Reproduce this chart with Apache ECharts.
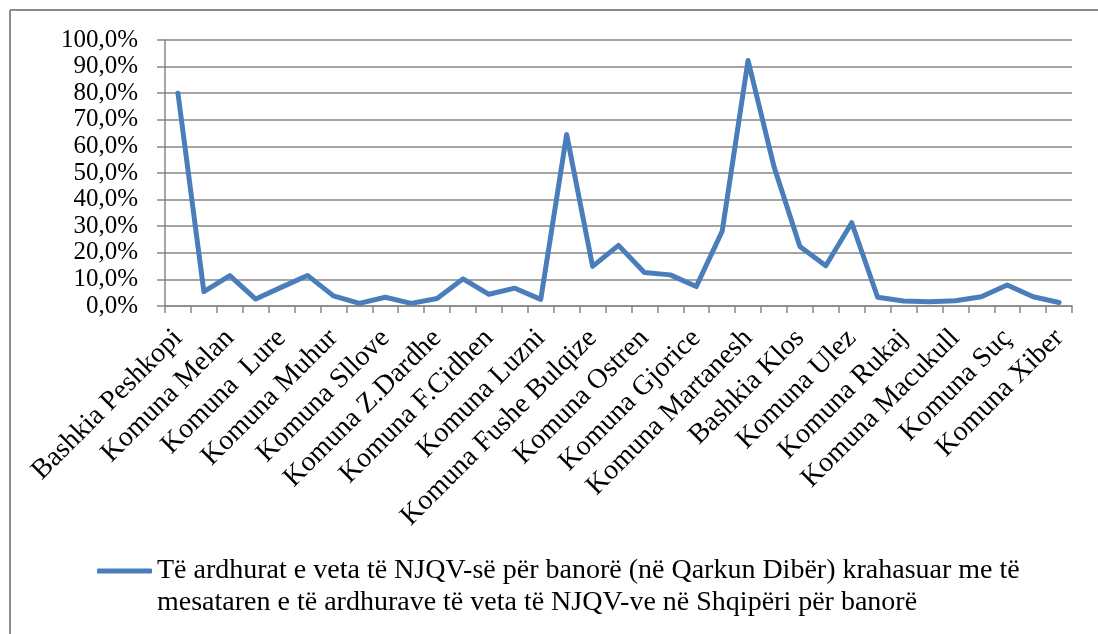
<!DOCTYPE html>
<html>
<head>
<meta charset="utf-8">
<script src="https://cdn.jsdelivr.net/npm/echarts@6/dist/echarts.min.js"></script>
<style>
html,body{margin:0;padding:0;background:#fff;}
#chart{width:1098px;height:634px;}
</style>
</head>
<body>
<div id="chart"></div>
<script>
const categories = [
  'Bashkia Peshkopi','Komuna Tomin','Komuna Melan','Komuna Kastriot','Komuna  Lure',
  'Komuna Arras','Komuna Muhur','Komuna Selishte','Komuna Sllove','Komuna Maqellare',
  'Komuna Z.Dardhe','Komuna Z.Rec','Komuna F.Cidhen','Komuna K.Dodes','Komuna Luzni',
  'Bashkia Bulqize','Komuna Fushe Bulqize','Komuna Shupenze','Komuna Ostren','Komuna Trebisht',
  'Komuna Gjorice','Komuna Zerqan','Komuna Martanesh','Bashkia Burrel','Bashkia Klos',
  'Komuna Baz','Komuna Ulez','Komuna Derjan','Komuna Rukaj','Komuna Komsi',
  'Komuna Macukull','Komuna Lis','Komuna Suç','Komuna Gurre','Komuna Xiber'
];
const values = [
  80.0, 5.4, 11.4, 2.6, 7.1,
  11.5, 3.8, 1.0, 3.3, 1.0,
  2.8, 10.2, 4.4, 6.7, 2.5,
  64.5, 14.9, 22.8, 12.6, 11.7,
  7.3, 28.1, 92.3, 52.4, 22.4,
  15.1, 31.3, 3.3, 1.9, 1.6,
  2.0, 3.5, 7.9, 3.5, 1.3
];
const seriesName = 'Të ardhurat e veta të NJQV-së për banorë (në Qarkun Dibër) krahasuar me të\nmesataren e të ardhurave të veta të NJQV-ve në Shqipëri për banorë';
const yTicks = { min: 0, max: 100, interval: 10 };

const FONT = '"Liberation Serif", "DejaVu Serif", serif';
const chart = echarts.init(document.getElementById('chart'), null, { renderer: 'canvas' });
chart.setOption({
  animation: false,
  backgroundColor: '#ffffff',
  textStyle: { fontFamily: FONT },
  graphic: [
    { type: 'line', silent: true, shape: { x1: 10, y1: 10, x2: 1098, y2: 10 }, style: { stroke: '#8c8c8c', lineWidth: 2 } },
    { type: 'line', silent: true, shape: { x1: 10, y1: 10, x2: 10, y2: 634 }, style: { stroke: '#8c8c8c', lineWidth: 2 } }
  ],
  grid: { left: 165, right: 26, top: 40, bottom: 328 },
  legend: {
    left: 97,
    top: 523,
    padding: 0,
    icon: 'roundRect',
    itemWidth: 55,
    itemHeight: 5,
    itemGap: 5,
    formatter: name => ' \n' + name,
    textStyle: {
      fontFamily: FONT,
      fontSize: 28,
      color: '#000',
      lineHeight: 32
    },
    data: [seriesName]
  },
  xAxis: {
    type: 'category',
    data: categories,
    boundaryGap: true,
    axisLine: { show: true, lineStyle: { color: '#868686', width: 1.5 } },
    axisTick: { show: true, interval: 0, length: 7, lineStyle: { color: '#868686', width: 1.5 } },
    axisLabel: {
      interval: 1,
      rotate: 45,
      margin: 28,
      hideOverlap: false,
      fontFamily: FONT,
      fontSize: 28,
      color: '#000'
    },
    splitLine: { show: false }
  },
  yAxis: {
    type: 'value',
    min: yTicks.min,
    max: yTicks.max,
    interval: yTicks.interval,
    axisLine: { show: true, lineStyle: { color: '#868686', width: 1.5 } },
    axisTick: { show: true, length: 8, lineStyle: { color: '#868686', width: 1.5 } },
    axisLabel: {
      margin: 27,
      showMinLabel: true,
      showMaxLabel: true,
      hideOverlap: false,
      fontFamily: FONT,
      fontSize: 25,
      color: '#000',
      formatter: v => v.toFixed(1).replace('.', ',') + '%'
    },
    splitLine: { show: true, lineStyle: { color: '#868686', width: 1.5 } }
  },
  series: [{
    name: seriesName,
    type: 'line',
    data: values,
    symbol: 'none',
    smooth: false,
    itemStyle: { color: '#4a7ebb' },
    lineStyle: { color: '#4a7ebb', width: 5, cap: 'round', join: 'round' }
  }]
});
</script>
</body>
</html>
